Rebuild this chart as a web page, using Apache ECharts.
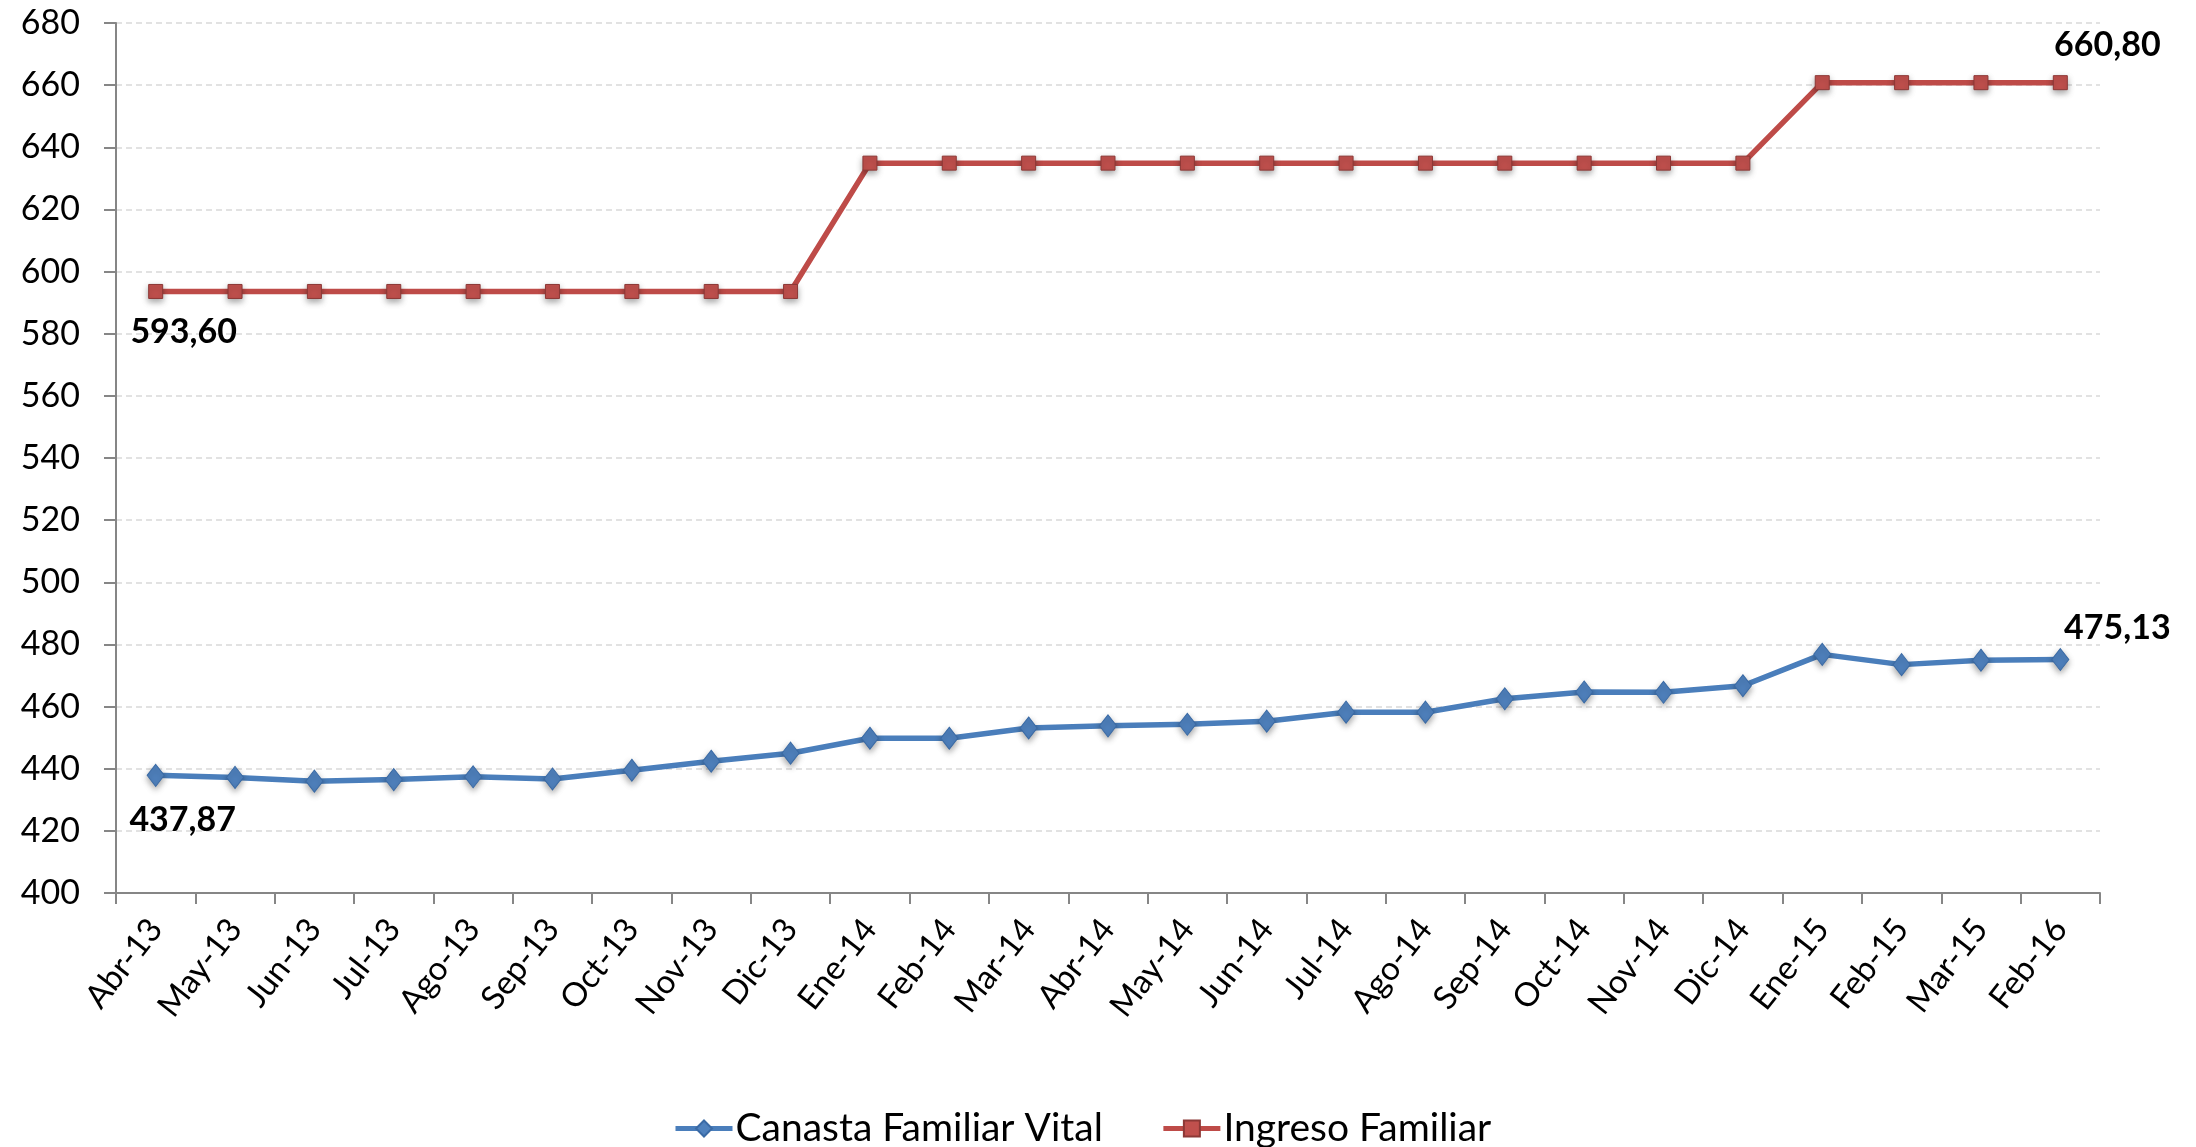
<!DOCTYPE html>
<html>
<head>
<meta charset="utf-8">
<script src="https://cdn.jsdelivr.net/npm/echarts@6/dist/echarts.min.js"></script>
<style>
html,body{margin:0;padding:0;background:#fff;}
#chart{width:2196px;height:1147px;}
</style>
</head>
<body>
<div id="chart"></div>
<script>
var categories = ["Abr-13","May-13","Jun-13","Jul-13","Ago-13","Sep-13","Oct-13","Nov-13","Dic-13","Ene-14","Feb-14","Mar-14","Abr-14","May-14","Jun-14","Jul-14","Ago-14","Sep-14","Oct-14","Nov-14","Dic-14","Ene-15","Feb-15","Mar-15","Feb-16"];
var canasta = [437.87,437.2,436.0,436.5,437.4,436.7,439.5,442.4,445.0,449.8,449.8,453.1,453.8,454.3,455.3,458.2,458.2,462.5,464.7,464.6,466.7,476.8,473.5,474.9,475.13];
var ingreso = [593.60,593.60,593.60,593.60,593.60,593.60,593.60,593.60,593.60,634.9,634.9,634.9,634.9,634.9,634.9,634.9,634.9,634.9,634.9,634.9,634.9,660.80,660.80,660.80,660.80];
var seriesNames = ["Canasta Familiar Vital","Ingreso Familiar"];

var FONT = "Lato";
function fmt(v){ return v.toFixed(2).replace('.', ','); }
function withLabels(arr, firstOff, lastOff){
  return arr.map(function(v,i){
    var d = {value:v};
    if(i===0 || i===arr.length-1){
      d.label = {show:true, position:'inside', offset: i===0 ? firstOff : lastOff,
        formatter: function(p){return fmt(p.value);},
        fontFamily: FONT, fontWeight:'bold', fontSize:34, color:'#000'};
    }
    return d;
  });
}

var chart = echarts.init(document.getElementById('chart'), null, {renderer:'canvas'});
chart.setOption({
  animation:false,
  backgroundColor:'#fff',
  grid:{left:116, right:96, top:23, bottom:254, containLabel:false},
  legend:{
    left:668, top:1104, itemWidth:57, itemHeight:20, itemGap:58,
    lineStyle:{width:5},
    textStyle:{fontFamily:FONT, fontSize:39, color:'#000', padding:[0,0,0,-2]},
    data:seriesNames
  },
  xAxis:{
    type:'category', data:categories, boundaryGap:true,
    axisLine:{lineStyle:{color:'#868686', width:2}},
    axisTick:{show:true, length:11, alignWithLabel:false, lineStyle:{color:'#868686', width:2}},
    axisLabel:{rotate:52, interval:0, margin:30, fontFamily:FONT, fontSize:33, color:'#000'},
    splitLine:{show:false}
  },
  yAxis:{
    type:'value', min:400, max:680, interval:20,
    axisLine:{show:true, lineStyle:{color:'#868686', width:2}},
    axisTick:{show:true, length:12, lineStyle:{color:'#868686', width:2}},
    axisLabel:{margin:36, fontFamily:FONT, fontSize:34, color:'#000'},
    splitLine:{show:true, lineStyle:{color:'#d9d9d9', width:1.5, type:[6,4]}}
  },
  series:[
    {
      name:seriesNames[0], type:'line', data:withLabels(canasta,[27,45],[57,-32]),
      symbol:'diamond', symbolSize:[17,22],
      lineStyle:{color:'#4a7ebb', width:5.5},
      itemStyle:{color:'#4f81bd', borderColor:'#3a6aa5', borderWidth:1, shadowBlur:6, shadowColor:'rgba(0,0,0,0.35)', shadowOffsetY:3},
      z:3
    },
    {
      name:seriesNames[1], type:'line', data:withLabels(ingreso,[28,41],[47,-38]),
      symbol:'rect', symbolSize:14,
      lineStyle:{color:'#be4b48', width:5.5},
      itemStyle:{color:'#c0504d', borderColor:'#8c3836', borderWidth:1, shadowBlur:6, shadowColor:'rgba(0,0,0,0.35)', shadowOffsetY:3},
      z:2
    }
  ]
});
</script>
</body>
</html>
